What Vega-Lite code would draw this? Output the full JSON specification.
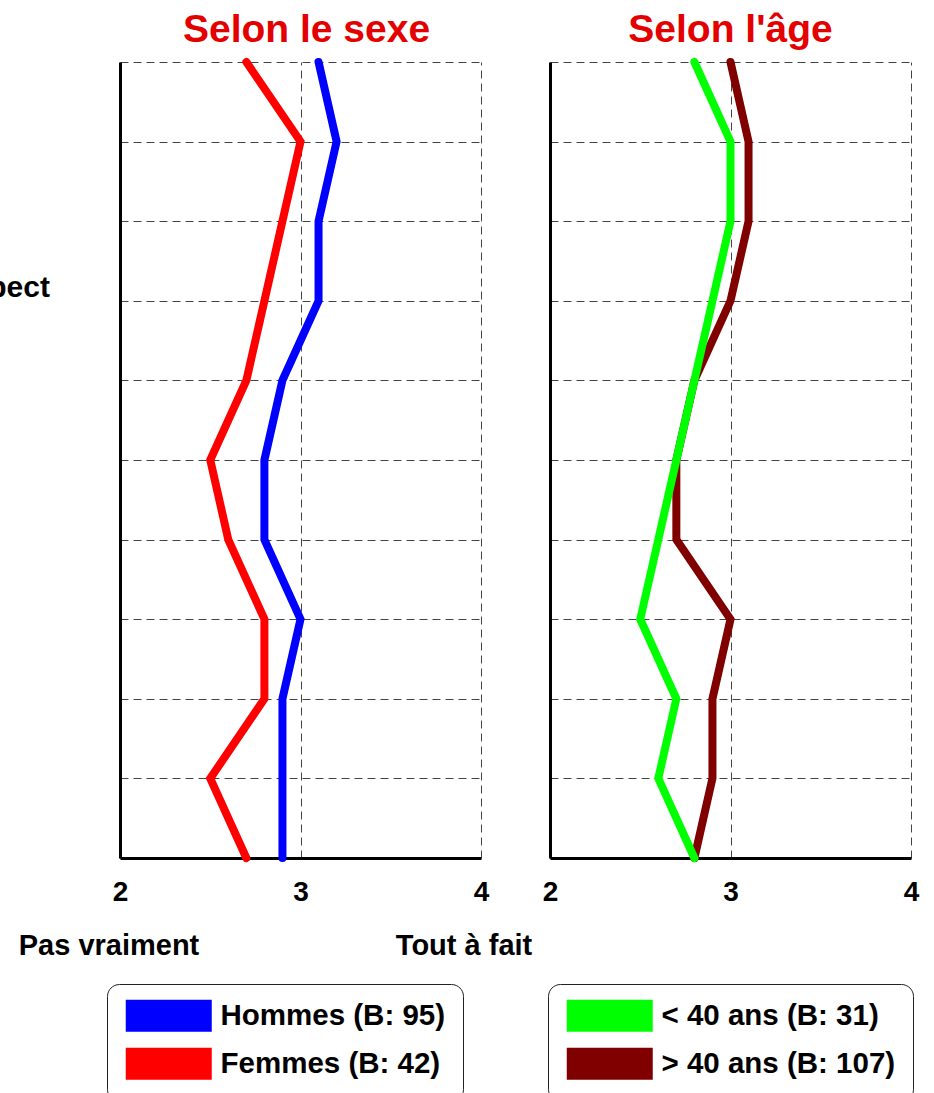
{
  "$schema": "https://vega.github.io/schema/vega-lite/v6.json",
  "autosize": {"type": "none"},
  "padding": {"left": 120, "top": 62, "right": 814, "bottom": 1031},
  "background": "white",
  "config": {
    "view": {"stroke": null},
    "font": "Liberation Sans",
    "title": {"font": "Liberation Sans", "fontSize": 39, "fontWeight": "bold", "color": "#e50000", "anchor": "middle", "baseline": "bottom", "offset": -4},
    "axis": {
      "domainColor": "black", "domainWidth": 3, "gridColor": "#444", "gridDash": [8, 5], "gridWidth": 1,
      "ticks": false, "labelFont": "Liberation Sans", "labelFontSize": 28, "labelFontWeight": "bold",
      "labelColor": "black", "title": null, "labelFlush": false, "labelOverlap": false
    },
    "legend": {
      "orient": "none", "fillColor": "white", "strokeColor": "#222", "cornerRadius": 12, "padding": 17,
      "labelFont": "Liberation Sans", "labelFontSize": 29.5, "labelFontWeight": "bold", "labelColor": "black",
      "labelLimit": 600, "labelOffset": 67,
      "symbolType": "M-13,-15H73M-13,-13H73M-13,-11H73M-13,-9H73M-13,-7H73M-13,-5H73M-13,-3H73M-13,-1H73M-13,1H73M-13,3H73M-13,5H73M-13,7H73M-13,9H73M-13,11H73M-13,13H73M-13,15H73",
      "symbolSize": 4, "symbolStrokeWidth": 2.2,
      "rowPadding": 8, "title": null
    }
  },
  "bounds": "flush",
  "spacing": 69,
  "resolve": {"scale": {"color": "independent"}, "legend": {"color": "independent"}},
  "hconcat": [
    {
      "width": 361,
      "height": 796,
      "title": {"text": "Selon le sexe", "dx": 6},
      "layer": [
        {
          "data": {"values": [
            {"groupe": "Hommes (B: 95)", "rang": 1, "score": 3.1},
            {"groupe": "Hommes (B: 95)", "rang": 2, "score": 3.2},
            {"groupe": "Hommes (B: 95)", "rang": 3, "score": 3.1},
            {"groupe": "Hommes (B: 95)", "rang": 4, "score": 3.1},
            {"groupe": "Hommes (B: 95)", "rang": 5, "score": 2.9},
            {"groupe": "Hommes (B: 95)", "rang": 6, "score": 2.8},
            {"groupe": "Hommes (B: 95)", "rang": 7, "score": 2.8},
            {"groupe": "Hommes (B: 95)", "rang": 8, "score": 3.0},
            {"groupe": "Hommes (B: 95)", "rang": 9, "score": 2.9},
            {"groupe": "Hommes (B: 95)", "rang": 10, "score": 2.9},
            {"groupe": "Hommes (B: 95)", "rang": 11, "score": 2.9},
            {"groupe": "Femmes (B: 42)", "rang": 1, "score": 2.7},
            {"groupe": "Femmes (B: 42)", "rang": 2, "score": 3.0},
            {"groupe": "Femmes (B: 42)", "rang": 3, "score": 2.9},
            {"groupe": "Femmes (B: 42)", "rang": 4, "score": 2.8},
            {"groupe": "Femmes (B: 42)", "rang": 5, "score": 2.7},
            {"groupe": "Femmes (B: 42)", "rang": 6, "score": 2.5},
            {"groupe": "Femmes (B: 42)", "rang": 7, "score": 2.6},
            {"groupe": "Femmes (B: 42)", "rang": 8, "score": 2.8},
            {"groupe": "Femmes (B: 42)", "rang": 9, "score": 2.8},
            {"groupe": "Femmes (B: 42)", "rang": 10, "score": 2.5},
            {"groupe": "Femmes (B: 42)", "rang": 11, "score": 2.7}
          ]},
          "mark": {"type": "line", "strokeWidth": 8, "strokeCap": "round"},
          "encoding": {
            "x": {"field": "score", "type": "quantitative", "scale": {"domain": [2, 4]}, "axis": {"values": [2, 3, 4], "labelExpr": "format(datum.value, '.0f')", "labelPadding": 20, "grid": true}},
            "y": {"field": "rang", "type": "quantitative", "scale": {"domain": [1, 11], "reverse": true}, "axis": {"values": [1, 2, 3, 4, 5, 6, 7, 8, 9, 10, 11], "labels": false, "grid": true}},
            "color": {"field": "groupe", "type": "nominal", "scale": {"domain": ["Hommes (B: 95)", "Femmes (B: 42)"], "range": ["#0000ff", "#ff0000"]}, "legend": {"legendX": -13, "legendY": 922}},
            "order": {"field": "rang"}
          }
        },
        {
          "data": {"values": [{}]},
          "mark": {"type": "text", "text": "pect", "align": "right", "baseline": "alphabetic", "fontSize": 30, "fontWeight": "bold", "font": "Liberation Sans", "color": "black"},
          "encoding": {"x": {"datum": 1.612}, "y": {"datum": 3.95}}
        },
        {
          "data": {"values": [{}]},
          "mark": {"type": "text", "text": "Pas vraiment", "align": "center", "baseline": "alphabetic", "fontSize": 29, "fontWeight": "bold", "font": "Liberation Sans", "color": "black"},
          "encoding": {"x": {"datum": 1.939}, "y": {"datum": 12.22}}
        },
        {
          "data": {"values": [{}]},
          "mark": {"type": "text", "text": "Tout à fait", "align": "center", "baseline": "alphabetic", "fontSize": 29, "fontWeight": "bold", "font": "Liberation Sans", "color": "black"},
          "encoding": {"x": {"datum": 3.906}, "y": {"datum": 12.22}}
        }
      ]
    },
    {
      "width": 361,
      "height": 796,
      "title": {"text": "Selon l'âge"},
      "data": {"values": [
        {"groupe": "> 40 ans (B: 107)", "rang": 1, "score": 3.0},
        {"groupe": "> 40 ans (B: 107)", "rang": 2, "score": 3.1},
        {"groupe": "> 40 ans (B: 107)", "rang": 3, "score": 3.1},
        {"groupe": "> 40 ans (B: 107)", "rang": 4, "score": 3.0},
        {"groupe": "> 40 ans (B: 107)", "rang": 5, "score": 2.8},
        {"groupe": "> 40 ans (B: 107)", "rang": 6, "score": 2.7},
        {"groupe": "> 40 ans (B: 107)", "rang": 7, "score": 2.7},
        {"groupe": "> 40 ans (B: 107)", "rang": 8, "score": 3.0},
        {"groupe": "> 40 ans (B: 107)", "rang": 9, "score": 2.9},
        {"groupe": "> 40 ans (B: 107)", "rang": 10, "score": 2.9},
        {"groupe": "> 40 ans (B: 107)", "rang": 11, "score": 2.8},
        {"groupe": "< 40 ans (B: 31)", "rang": 1, "score": 2.8},
        {"groupe": "< 40 ans (B: 31)", "rang": 2, "score": 3.0},
        {"groupe": "< 40 ans (B: 31)", "rang": 3, "score": 3.0},
        {"groupe": "< 40 ans (B: 31)", "rang": 4, "score": 2.9},
        {"groupe": "< 40 ans (B: 31)", "rang": 5, "score": 2.8},
        {"groupe": "< 40 ans (B: 31)", "rang": 6, "score": 2.7},
        {"groupe": "< 40 ans (B: 31)", "rang": 7, "score": 2.6},
        {"groupe": "< 40 ans (B: 31)", "rang": 8, "score": 2.5},
        {"groupe": "< 40 ans (B: 31)", "rang": 9, "score": 2.7},
        {"groupe": "< 40 ans (B: 31)", "rang": 10, "score": 2.6},
        {"groupe": "< 40 ans (B: 31)", "rang": 11, "score": 2.8}
      ]},
      "mark": {"type": "line", "strokeWidth": 8, "strokeCap": "round"},
      "encoding": {
        "x": {"field": "score", "type": "quantitative", "scale": {"domain": [2, 4]}, "axis": {"values": [2, 3, 4], "labelExpr": "format(datum.value, '.0f')", "labelPadding": 20, "grid": true}},
        "y": {"field": "rang", "type": "quantitative", "scale": {"domain": [1, 11], "reverse": true}, "axis": {"values": [1, 2, 3, 4, 5, 6, 7, 8, 9, 10, 11], "labels": false, "grid": true}},
        "color": {"field": "groupe", "type": "nominal", "scale": {"domain": ["< 40 ans (B: 31)", "> 40 ans (B: 107)"], "range": ["#00ff00", "#800000"]}, "legend": {"legendX": -2, "legendY": 922}},
        "order": {"field": "rang"}
      }
    }
  ]
}
